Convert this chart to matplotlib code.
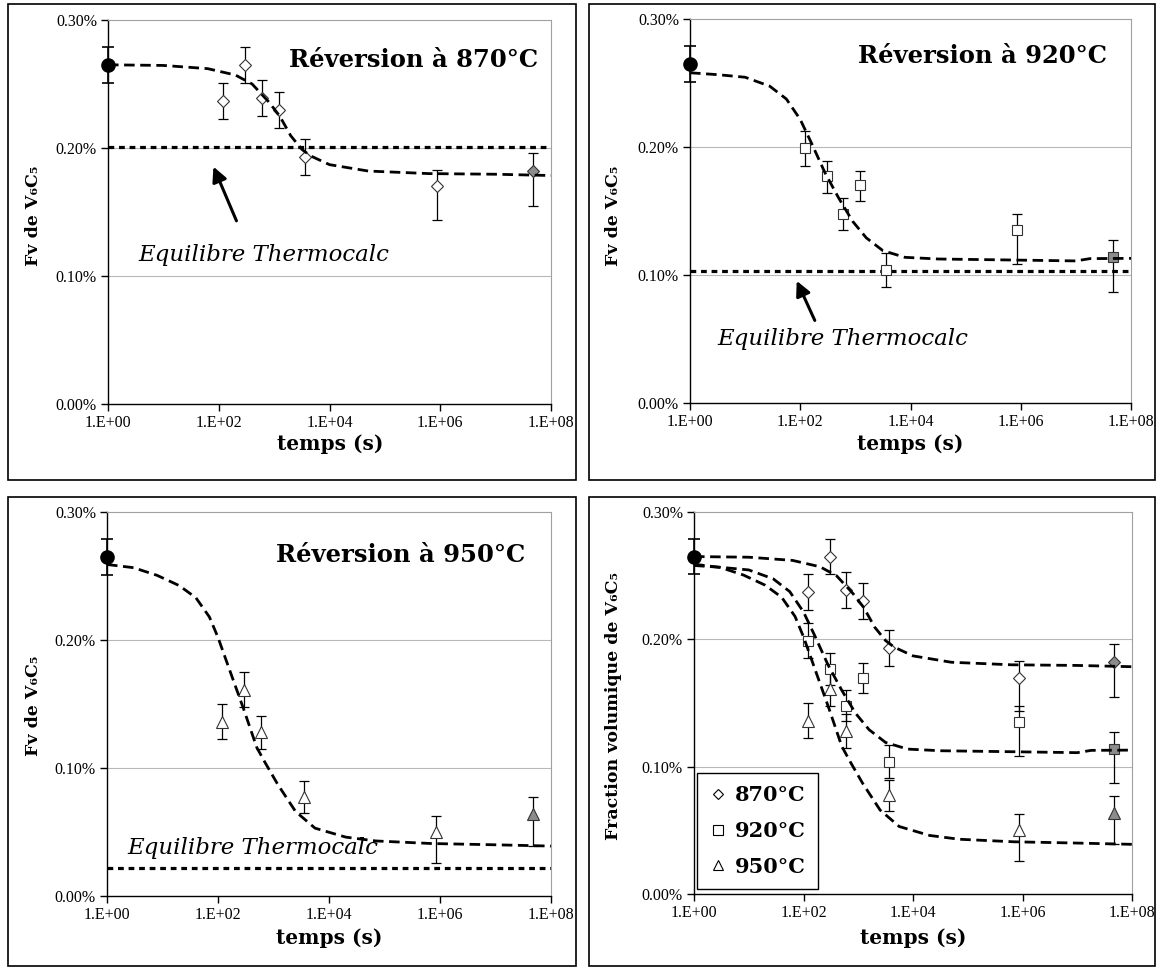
import matplotlib
matplotlib.use("Agg")
import matplotlib.pyplot as plt
from matplotlib.lines import Line2D
from matplotlib.patches import Rectangle

W, H = 1160, 969

SERIF = ["DejaVu Serif", "DejaVu Sans"]
TICKF = "Liberation Serif"
GREY_FILL = "#8c8c8c"
EDGE = "#333333"

# --- measured points : time (s), Fv (%), error up / down (%)
T_INIT = [1]
FV_INIT = [0.265]
ERR_INIT = [0.014]

T_870 = [120, 300, 600, 1200, 3600, 864000, 4.7e7]
FV_870 = [0.237, 0.265, 0.239, 0.230, 0.193, 0.170, 0.182]
UP_870 = [0.014, 0.014, 0.014, 0.014, 0.014, 0.013, 0.014]
DN_870 = [0.014, 0.014, 0.014, 0.014, 0.014, 0.026, 0.027]

T_920 = [120, 300, 600, 1200, 3600, 864000, 4.7e7]
FV_920 = [0.199, 0.177, 0.148, 0.170, 0.104, 0.135, 0.114]
UP_920 = [0.0135, 0.012, 0.0125, 0.0115, 0.013, 0.013, 0.013]
DN_920 = [0.0135, 0.013, 0.0125, 0.012, 0.013, 0.0265, 0.027]

T_950 = [120, 300, 600, 3600, 864000, 4.7e7]
FV_950 = [0.136, 0.161, 0.128, 0.0775, 0.050, 0.064]
UP_950 = [0.0137, 0.0137, 0.013, 0.0124, 0.0125, 0.013]
DN_950 = [0.0137, 0.0137, 0.013, 0.0124, 0.024, 0.025]

# --- fitted curves
FIT_T_870 = [1, 10, 63, 200, 400, 800, 1260, 2000, 3160, 4470, 1e4, 5e4, 6.3e5, 1e7, 1e8]
FIT_FV_870 = [0.265, 0.2645, 0.262, 0.257, 0.250, 0.236, 0.225, 0.2095, 0.199,
              0.194, 0.187, 0.182, 0.180, 0.1795, 0.1785]

FIT_T_920 = [1, 3.2, 10, 28, 56, 100, 160, 280, 500, 890, 1580, 3160, 7940,
             3.2e4, 5e5, 1e7, 1.8e7, 1e8]
FIT_FV_920 = [0.258, 0.2565, 0.2545, 0.2475, 0.2375, 0.2215, 0.203, 0.180, 0.160,
              0.142, 0.129, 0.119, 0.1138, 0.1125, 0.1118, 0.111, 0.1128, 0.113]

FIT_T_950 = [1, 3, 8, 20, 40, 70, 100, 170, 290, 500, 710, 1200, 2500, 5600,
             2e4, 7e4, 7e5, 1e7, 1e8]
FIT_FV_950 = [0.259, 0.2565, 0.2505, 0.2425, 0.233, 0.218, 0.202, 0.174, 0.146,
              0.116, 0.104, 0.087, 0.066, 0.053, 0.046, 0.043, 0.041, 0.040, 0.039]

# --- Thermocalc equilibrium
EQ_870, EQ_920, EQ_950 = 0.201, 0.103, 0.022

X_TICKS = [1, 1e2, 1e4, 1e6, 1e8]
X_LABELS = ["1.E+00", "1.E+02", "1.E+04", "1.E+06", "1.E+08"]
Y_TICKS = [0.0, 0.1, 0.2, 0.3]
Y_LABELS = ["0.00%", "0.10%", "0.20%", "0.30%"]


def px_axes(fig, l, r, t, b):
    return fig.add_axes([l / W, 1 - b / H, (r - l) / W, (b - t) / H])


def style(ax):
    ax.set_xscale("log")
    ax.set_xlim(1, 1e8)
    ax.set_ylim(0, 0.3)
    ax.set_xticks(X_TICKS)
    ax.set_xticklabels(X_LABELS)
    ax.minorticks_off()
    ax.set_yticks(Y_TICKS)
    ax.set_yticklabels(Y_LABELS)
    for s in ["top", "right"]:
        ax.spines[s].set_color("#a0a0a0")
        ax.spines[s].set_linewidth(0.8)
    for s in ["bottom", "left"]:
        ax.spines[s].set_color("black")
        ax.spines[s].set_linewidth(1.0)
    ax.tick_params(direction="out", length=5, width=1, colors="black", pad=3)
    for lab in ax.get_xticklabels() + ax.get_yticklabels():
        lab.set_fontfamily(TICKF)
        lab.set_fontsize(11.5)
    for v in [0.1, 0.2]:
        ax.axhline(v, color="#b8b8b8", lw=0.8, zorder=0)


def box(fig, l, r, t, b):
    fig.patches.append(Rectangle((l / W, 1 - b / H), (r - l) / W, (b - t) / H,
                                 transform=fig.transFigure, fill=False,
                                 edgecolor="black", lw=1.2))


def series(ax, t, fv, up, dn, marker, ms):
    ax.errorbar(t, fv, yerr=[dn, up], fmt="none", ecolor="black", elinewidth=0.9,
                capsize=3.5, capthick=0.9, zorder=3, clip_on=False)
    ax.plot(t[:-1], fv[:-1], ls="none", marker=marker, ms=ms, mfc="white",
            mec=EDGE, mew=0.8, zorder=4, clip_on=False)
    ax.plot(t[-1:], fv[-1:], ls="none", marker=marker, ms=ms, mfc=GREY_FILL,
            mec=EDGE, mew=0.8, zorder=4, clip_on=False)


def initial(ax):
    ax.errorbar(T_INIT, FV_INIT, yerr=ERR_INIT, fmt="none", ecolor="black",
                elinewidth=1.2, capsize=4, capthick=1.2, zorder=3, clip_on=False)
    ax.plot(T_INIT, FV_INIT, ls="none", marker="o", ms=9.5, color="black",
            zorder=6, clip_on=False)


def fit(ax, t, fv):
    ax.plot(t, fv, color="black", lw=2.0, dashes=(3.8, 2.0), zorder=5)


def equilibrium(ax, v, tx, ty, arrow=None):
    ax.axhline(v, color="black", lw=2.3, dashes=(1.8, 1.5), zorder=2)
    ax.text(tx, ty, "Equilibre Thermocalc", transform=ax.transAxes,
            fontfamily=SERIF, fontstyle="italic", fontsize=16.5,
            ha="left", va="center")
    if arrow:
        ax.annotate("", xy=arrow[0], xytext=arrow[1], xycoords="axes fraction",
                    textcoords="axes fraction",
                    arrowprops=dict(arrowstyle="-|>", color="black", lw=2.2,
                                    mutation_scale=22, shrinkA=0, shrinkB=0))


def title(ax, txt, x, y):
    ax.text(x, y, txt, transform=ax.transAxes, fontfamily=SERIF,
            fontweight="bold", fontsize=17.5, ha="right", va="center")


def labels(fig, xl, yl, xlabel_y, ytext):
    fig.text(xl / W, 1 - xlabel_y / H, "temps (s)", fontfamily=SERIF,
             fontweight="bold", fontsize=14.5, ha="center", va="center")
    fig.text(yl[0] / W, 1 - yl[1] / H, ytext, fontfamily=SERIF,
             fontweight="bold", fontsize=12.5, rotation=90,
             ha="center", va="center")


fig = plt.figure(figsize=(W / 100, H / 100), dpi=100, facecolor="white")

box(fig, 8, 576, 4, 480)
box(fig, 589, 1155, 4, 480)
box(fig, 8, 576, 497, 966)
box(fig, 589, 1155, 497, 966)

# --- 870 C
ax = px_axes(fig, 108, 551, 20, 404)
style(ax)
equilibrium(ax, EQ_870, 0.068, 0.388, arrow=((0.238, 0.618), (0.290, 0.477)))
series(ax, T_870, FV_870, UP_870, DN_870, "D", 6.6)
fit(ax, FIT_T_870, FIT_FV_870)
initial(ax)
title(ax, "Réversion à 870°C", 0.971, 0.896)
labels(fig, 330, (34, 216), 444, "Fv de V₆C₅")

# --- 920 C
ax = px_axes(fig, 690, 1131, 19, 403)
style(ax)
equilibrium(ax, EQ_920, 0.061, 0.167, arrow=((0.242, 0.318), (0.283, 0.215)))
series(ax, T_920, FV_920, UP_920, DN_920, "s", 7.5)
fit(ax, FIT_T_920, FIT_FV_920)
initial(ax)
title(ax, "Réversion à 920°C", 0.946, 0.904)
labels(fig, 910, (614, 216), 444, "Fv de V₆C₅")

# --- 950 C
ax = px_axes(fig, 107, 551, 512, 896)
style(ax)
equilibrium(ax, EQ_950, 0.045, 0.125)
series(ax, T_950, FV_950, UP_950, DN_950, "^", 9)
fit(ax, FIT_T_950, FIT_FV_950)
initial(ax)
title(ax, "Réversion à 950°C", 0.941, 0.888)
labels(fig, 329, (34, 706), 938, "Fv de V₆C₅")

# --- all three
ax = px_axes(fig, 694, 1132, 512, 894)
style(ax)
series(ax, T_870, FV_870, UP_870, DN_870, "D", 6.6)
series(ax, T_920, FV_920, UP_920, DN_920, "s", 7.5)
series(ax, T_950, FV_950, UP_950, DN_950, "^", 9)
fit(ax, FIT_T_870, FIT_FV_870)
fit(ax, FIT_T_920, FIT_FV_920)
fit(ax, FIT_T_950, FIT_FV_950)
initial(ax)
labels(fig, 913, (614, 706), 938, "Fraction volumique de V₆C₅")

handles = [Line2D([], [], ls="none", marker=m, ms=s, mfc="white", mec="black", mew=0.8)
           for m, s in [("D", 5.5), ("s", 6.5), ("^", 7.5)]]
leg = ax.legend(handles, ["870°C", "920°C", "950°C"], loc="lower left",
                bbox_to_anchor=(0.007, 0.013), borderaxespad=0, fancybox=False,
                edgecolor="black", framealpha=1, handlelength=0.8,
                handletextpad=0.4, labelspacing=0.75, borderpad=0.6,
                prop=dict(family=SERIF, weight="bold", size=15))
leg.get_frame().set_linewidth(1.0)

plt.savefig("out.png", dpi=100, facecolor="white")
